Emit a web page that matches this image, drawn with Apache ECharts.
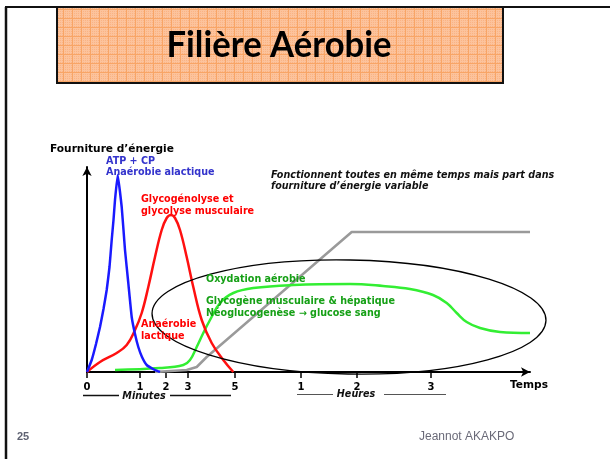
<!DOCTYPE html>
<html>
<head>
<meta charset="utf-8">
<script src="https://cdn.jsdelivr.net/npm/echarts@6/dist/echarts.min.js"></script>
<style>
html,body{margin:0;padding:0;background:#fff;}
#chart{width:610px;height:459px;}
</style>
</head>
<body>
<div id="chart"></div>
<script>
// ---- Data (x in axis position units, y = energy supply, arbitrary units) ----
const tickValues = [0, 53, 79, 101, 148, 214, 270, 344];
const tickLabels = ['0', '1', '2', '3', '5', '1', '2', '3'];

const atpX = [0, 4.7, 9, 13, 16.5, 19.7, 22.5, 24.7, 26.5, 28, 30.7, 33, 34.7, 36.5, 38, 41.3, 44.7, 48, 51.3, 55, 59.7, 68, 73];
const atpY = [0, 12, 28, 45, 63, 82, 105, 132, 152, 172, 197, 180, 165, 142, 122, 89, 55, 38, 25, 15, 7, 2, 0];

const glycoX = [0, 13, 29.7, 39.7, 48, 54.7, 61.3, 68, 74.7, 79.7, 84, 88, 93, 99.7, 106.3, 114.7, 124.7, 136.3, 146.3];
const glycoY = [0, 10, 19, 27, 42, 59, 85, 115, 142, 154, 157, 154, 142, 115, 85, 52, 29, 12, 0];

const oxyX = [28, 73, 96.3, 103, 109.7, 116.3, 123, 133, 146.3, 166.3, 206.3, 263, 296, 323, 346, 359.7, 369.7, 379.7, 393, 413, 443];
const oxyY = [2, 4, 7, 12, 25, 39, 52, 69, 79, 84, 87, 88, 86, 83, 77, 69, 59, 50, 44, 40, 39];

const greyX = [68, 99.7, 109.7, 119.7, 264.7, 443];
const greyY = [0, 2, 5, 15, 140, 140];

function pairs(xs, ys) { return xs.map((x, i) => [x, ys[i]]); }

const chart = echarts.init(document.getElementById('chart'), null, {renderer: 'canvas'});

const baseFont = '"DejaVu Sans", "Liberation Sans", Arial, sans-serif';

chart.setOption({
  animation: false,
  backgroundColor: '#ffffff',
  grid: {left: 87, top: 167, width: 443, height: 205},
  xAxis: {
    type: 'value', min: 0, max: 443,
    splitLine: {show: false},
    axisLine: {lineStyle: {color: '#000', width: 2}, symbol: ['none', 'arrow'], symbolSize: [7, 9]},
    axisTick: {show: true, customValues: tickValues, length: 6, lineStyle: {color: '#000', width: 1.5}},
    axisLabel: {
      customValues: tickValues, margin: 10,
      color: '#000', fontWeight: 'bold', fontSize: 10, fontFamily: baseFont,
      formatter: function (v) { const i = tickValues.indexOf(v); return i >= 0 ? tickLabels[i] : ''; }
    }
  },
  yAxis: {
    type: 'value', min: 0, max: 205,
    splitLine: {show: false},
    axisLine: {show: true, lineStyle: {color: '#000', width: 2}, symbol: ['none', 'arrow'], symbolSize: [7, 9]},
    axisTick: {show: false},
    axisLabel: {show: false}
  },
  series: [
    {type: 'line', data: pairs(greyX, greyY), showSymbol: false, smooth: false, lineStyle: {color: '#9a9a9a', width: 2.5}, z: 2},
    {type: 'line', data: pairs(oxyX, oxyY), showSymbol: false, smooth: 0.4, lineStyle: {color: '#33ee33', width: 2.5}, z: 3},
    {type: 'line', data: pairs(glycoX, glycoY), showSymbol: false, smooth: 0.4, lineStyle: {color: '#ff1010', width: 2.5}, z: 4},
    {type: 'line', data: pairs(atpX, atpY), showSymbol: false, smooth: 0.12, lineStyle: {color: '#1a1aff', width: 2.5}, z: 5}
  ]
});

// ---- Decorations ----
const pat = document.createElement('canvas');
pat.width = 9; pat.height = 9;
const pc = pat.getContext('2d');
pc.fillStyle = '#fcc39c'; pc.fillRect(0, 0, 9, 9);
pc.fillStyle = '#f8a566'; pc.fillRect(0, 0, 9, 1); pc.fillRect(0, 0, 1, 9);
pc.fillStyle = '#fab384';
for (let i = 2; i < 9; i += 2) { for (let j = 2; j < 9; j += 2) { pc.fillRect(i, j, 1, 1); } }

// fit title width
const mc = document.createElement('canvas').getContext('2d');
const titleFont = 'bold 37px Lato, "Open Sans", sans-serif';
mc.font = titleFont;
const titleW = mc.measureText('Filière Aérobie').width;
const titleScale = 225 / titleW;

const ellC = chart.convertToPixel({gridIndex: 0}, [262, 55]);
const ellE = chart.convertToPixel({gridIndex: 0}, [262 + 197, 55 - 57]);
const rx = ellE[0] - ellC[0], ry = ellE[1] - ellC[1];

function txt(text, x, y, font, fill, align) {
  return {type: 'text', x: x, y: y, z: 100, style: {text: text, font: font, fill: fill, align: align || 'left', verticalAlign: 'middle'}};
}
function ln(x1, y1, x2, y2, w, c) {
  return {type: 'line', z: 50, shape: {x1: x1, y1: y1, x2: x2, y2: y2}, style: {stroke: c || '#000', lineWidth: w}};
}

const b10 = 'bold 9.6px ' + baseFont;
const b11 = 'bold 10.6px ' + baseFont;
const bi10 = 'italic bold 9.6px ' + baseFont;

chart.setOption({
  graphic: [
    ln(5, 7, 610, 7, 2, '#111'),
    ln(6, 7, 6, 459, 2.5, '#111'),
    {type: 'rect', z: 60, shape: {x: 57, y: 7, width: 446, height: 76}, style: {fill: {image: pat, repeat: 'repeat'}, stroke: '#111', lineWidth: 2}},
    {type: 'text', z: 101, x: 279, y: 45, scaleX: titleScale, style: {text: 'Filière Aérobie', font: titleFont, fill: '#000', align: 'center', verticalAlign: 'middle'}},

    {type: 'ellipse', z: 40, x: ellC[0], y: ellC[1], rotation: -0.018, shape: {cx: 0, cy: 0, rx: rx, ry: ry}, style: {fill: 'none', stroke: '#000', lineWidth: 1.3}},

    txt('Fourniture d\u2019énergie', 50, 149, b11, '#000'),
    txt('ATP + CP', 106, 161, b10, '#3333cc'),
    txt('Anaérobie alactique', 106, 172, b10, '#3333cc'),
    txt('Glycogénolyse et', 141, 199, b10, '#ff0000'),
    txt('glycolyse musculaire', 141, 211, b10, '#ff0000'),
    txt('Anaérobie', 141, 324, b10, '#ff0000'),
    txt('lactique', 141, 336, b10, '#ff0000'),
    txt('Oxydation aérobie', 206, 279, b10, '#16a016'),
    txt('Glycogène musculaire & hépatique', 206, 301, b10, '#16a016'),
    txt('Néoglucogenèse \u2192 glucose sang', 206, 313, b10, '#16a016'),
    txt('Fonctionnent toutes en même temps mais part dans', 271, 175, bi10, '#111'),
    txt('fourniture d\u2019énergie variable', 271, 186, bi10, '#111'),
    txt('Temps', 510, 385, b11, '#000'),

    ln(83, 395.5, 119, 395.5, 1.5, '#111'),
    txt('Minutes', 144, 396, bi10, '#111', 'center'),
    ln(170, 395.5, 231, 395.5, 1.5, '#111'),
    ln(297, 394.5, 333, 394.5, 1, '#555'),
    txt('Heures', 356, 394, bi10, '#111', 'center'),
    ln(384, 394.5, 446, 394.5, 1, '#555'),

    txt('25', 17, 437, 'bold 11px "Liberation Sans", Arial, sans-serif', '#5f6272'),
    txt('Jeannot AKAKPO', 419, 437, '12px "Liberation Sans", Arial, sans-serif', '#6a6a78')
  ]
});
</script>
</body>
</html>
